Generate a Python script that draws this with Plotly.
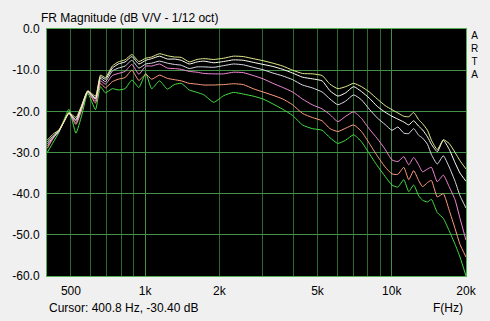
import math
import plotly.graph_objects as go

# ---------------- data ----------------
FREQ = [401, 424, 448, 469, 491, 524, 553, 585, 629, 659, 690, 736, 778, 829, 884, 943,
        1006, 1063, 1144, 1231, 1313, 1401, 1509, 1624, 1731, 1898, 2081, 2281, 2500, 2742,
        3006, 3296, 3613, 3961, 4343, 4761, 5219, 5617, 6045, 6506, 7003, 7537, 8112, 8731,
        9397, 10020, 10590, 11190, 11720, 12270, 12850, 13330, 13960, 14480, 15300, 16180,
        17090, 18060, 18910, 20000]

CURVE_YELLOW = [-27.0, -25.5, -24.5, -22.5, -20.3, -21.5, -18.5, -15.0, -16.3, -11.2, -11.8, -9.0,
                -8.0, -7.5, -6.2, -7.9, -7.1, -6.8, -6.0, -6.5, -6.8, -6.9, -8.0, -7.4, -7.2, -7.4,
                -7.1, -6.6, -6.7, -7.2, -7.7, -8.3, -9.0, -10.0, -10.8, -10.9, -11.3, -13.4, -14.5,
                -14.0, -13.2, -14.0, -15.3, -17.0, -18.6, -19.6, -20.4, -21.2, -21.3, -20.3, -22.0,
                -23.0, -24.6, -27.0, -29.3, -26.9, -27.8, -30.0, -32.0, -34.0]
CURVE_WHITE = [-27.5, -26.0, -24.6, -22.5, -20.4, -22.0, -18.8, -15.1, -16.8, -11.6, -12.2, -9.5,
               -8.5, -8.0, -6.7, -8.5, -7.6, -7.2, -6.6, -7.3, -7.3, -7.6, -8.5, -8.0, -7.8, -8.2,
               -7.9, -7.5, -7.6, -8.1, -8.6, -9.1, -9.8, -10.7, -11.7, -12.1, -12.6, -15.0, -16.3,
               -15.5, -14.0, -15.2, -16.8, -18.8, -20.2, -21.2, -21.9, -22.6, -23.3, -22.3, -23.6,
               -24.5, -26.2, -28.0, -29.8, -27.0, -29.2, -32.5, -35.0, -37.0]
CURVE_GRAY = [-28.0, -26.3, -24.8, -22.5, -20.5, -22.3, -19.0, -15.2, -17.0, -12.0, -12.8, -10.2,
              -9.5, -9.0, -7.6, -9.5, -8.5, -8.3, -7.8, -8.3, -8.6, -8.8, -9.6, -9.2, -9.2, -9.3,
              -8.9, -8.5, -8.7, -9.3, -9.9, -10.7, -11.4, -12.3, -13.6, -14.3, -15.3, -17.0, -18.4,
              -17.5, -16.0, -17.2, -19.5, -21.6, -23.2, -24.6, -23.8, -25.3, -25.4, -24.2, -25.8,
              -26.5, -28.0, -30.5, -32.8, -30.8, -33.5, -37.0, -40.5, -43.5]
CURVE_PINK = [-28.5, -26.5, -24.8, -22.5, -20.5, -22.8, -19.3, -15.3, -17.5, -12.6, -13.4, -11.3,
              -10.8, -10.3, -8.6, -11.0, -9.0, -9.0, -8.5, -9.5, -9.6, -9.8, -10.3, -10.5, -10.8,
              -10.9, -10.9, -10.5, -10.6, -11.3, -12.1, -13.2, -14.2, -15.3, -17.0, -18.4, -19.4,
              -20.8, -22.5, -21.2, -20.1, -21.7, -24.3, -26.6, -29.2, -31.8, -32.2, -31.0, -33.0,
              -31.2, -33.0, -34.7, -34.0, -33.6, -37.1, -35.5, -38.3, -41.5, -46.0, -51.3]
CURVE_SALMON = [-29.0, -26.5, -24.5, -22.3, -20.3, -23.2, -19.6, -15.2, -18.0, -13.2, -14.3, -12.8,
                -12.2, -11.8, -10.0, -12.5, -11.0, -12.2, -11.2, -12.0, -12.3, -12.6, -13.2, -13.4,
                -13.6, -13.6, -13.5, -13.3, -13.5, -14.5, -15.3, -16.1, -17.0, -18.4, -20.5, -21.5,
                -22.3, -24.2, -24.9, -24.1, -23.3, -24.9, -27.8, -30.8, -33.5, -35.2, -35.3, -33.6,
                -36.6, -34.4, -36.8, -38.3, -37.3, -36.8, -40.8, -40.0, -44.0, -48.5, -52.3, -55.4]
CURVE_GREEN = [-30.0, -27.5, -25.0, -22.0, -19.5, -25.3, -21.0, -15.6, -19.6, -14.0, -15.5, -14.5,
               -14.8, -14.5, -12.4, -14.2, -10.8, -14.5, -12.6, -14.6, -13.5, -13.2, -14.8, -15.4,
               -16.0, -17.8, -16.2, -15.4, -15.8, -16.3, -17.0, -18.2, -19.5, -21.0, -23.3, -24.2,
               -24.6, -26.4, -27.8, -27.0, -25.7, -27.4, -30.3, -33.2, -35.8, -37.9, -38.4, -36.6,
               -39.5, -37.9, -40.5, -41.6, -42.0, -41.4, -44.6, -46.0, -49.0, -52.3, -55.4, -60.0]

CURVES = [
    (CURVE_GREEN, "#44e044"),
    (CURVE_SALMON, "#ff9c80"),
    (CURVE_PINK, "#f488d8"),
    (CURVE_GRAY, "#dcdce8"),
    (CURVE_WHITE, "#fffff4"),
    (CURVE_YELLOW, "#e4ec8c"),
]

X_GRID = [500, 600, 700, 800, 900, 1000, 2000, 3000, 4000, 5000, 6000, 7000, 8000, 9000, 10000, 20000]
X_LABELS = ["500", "", "", "", "", "1k", "2k", "", "", "5k", "", "", "", "", "10k", "20k"]
X_MAJOR = [1000, 10000]
Y_TICKS = [0, -10, -20, -30, -40, -50, -60]
Y_LABELS = ["0.0", "-10.0", "-20.0", "-30.0", "-40.0", "-50.0", "-60.0"]

FONT = "Liberation Sans, Arial, sans-serif"
GRID_DIM = "#2e6a30"
GRID_BRIGHT = "#43904a"
BORDER = "#55b055"

fig = go.Figure()
for vals, col in CURVES:
    fig.add_trace(go.Scatter(x=FREQ, y=vals, mode="lines",
                             line=dict(color=col, width=1, shape="spline", smoothing=0.5),
                             hoverinfo="skip", showlegend=False))

xr = [math.log10(400), math.log10(20000)]
fig.update_layout(
    width=490, height=321,
    margin=dict(l=41, r=24, t=29, b=45, pad=0),
    paper_bgcolor="#f0f0f0", plot_bgcolor="black",
    font=dict(family=FONT, size=12, color="black"),
    title=dict(text="FR Magnitude (dB V/V - 1/12 oct)", x=41/490, xanchor="left",
               y=1-18/321, yanchor="middle", xref="container", yref="container",
               font=dict(family=FONT, size=12, color="black")),
    xaxis=dict(type="log", range=xr, tickvals=X_GRID, ticktext=X_LABELS,
               showgrid=True, gridcolor=GRID_DIM, gridwidth=1, zeroline=False,
               showline=True, linecolor=BORDER, linewidth=1, mirror=True,
               ticks="", ticklabelstandoff=4, tickfont=dict(size=12)),
    xaxis2=dict(type="log", range=xr, tickvals=X_MAJOR, overlaying="x",
                showticklabels=False, showgrid=True, gridcolor=GRID_BRIGHT, gridwidth=1,
                zeroline=False, showline=False, ticks=""),
    yaxis=dict(range=[-60, 0], tickvals=Y_TICKS, ticktext=Y_LABELS,
               showgrid=True, gridcolor=GRID_BRIGHT, gridwidth=1, zeroline=False,
               showline=True, linecolor=BORDER, linewidth=1, mirror=True,
               ticks="", ticklabelstandoff=4, tickfont=dict(size=12)),
)
# invisible trace to activate xaxis2 (bright decade grid lines)
fig.add_trace(go.Scatter(x=[1000], y=[-60], xaxis="x2", mode="markers",
                         marker=dict(opacity=0), hoverinfo="skip", showlegend=False))

H = 247.0
def py(ypx):
    return 1 - (ypx - 29) / H

fig.add_annotation(text="Cursor: 400.8 Hz, -30.40 dB", xref="paper", yref="paper",
                   x=0, y=py(308), xanchor="left", yanchor="middle", showarrow=False,
                   font=dict(family=FONT, size=12, color="black"))
fig.add_annotation(text="F(Hz)", xref="paper", yref="paper",
                   x=(465-41)/425, y=py(308), xanchor="right", yanchor="middle", showarrow=False,
                   font=dict(family=FONT, size=12, color="black"))
fig.add_annotation(text="A<br>R<br>T<br>A", xref="paper", yref="paper",
                   x=(474.5-41)/425, y=py(54.5), xanchor="center", yanchor="middle",
                   showarrow=False, font=dict(family=FONT, size=10, color="black"))

fig.write_html("out.html")
